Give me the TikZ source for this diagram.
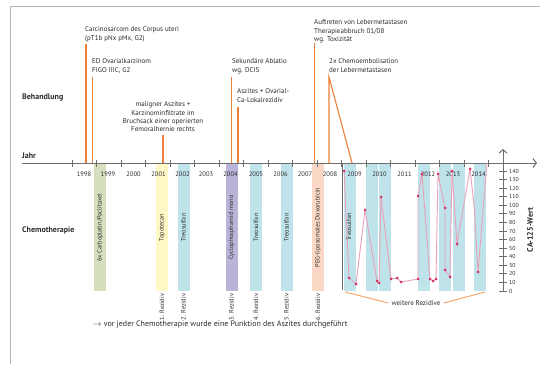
\documentclass[tikz,border=0pt]{standalone}
\usepackage{fontspec}
\setmainfont{PT Sans}
\usetikzlibrary{arrows.meta}
\definecolor{framegray}{HTML}{B4B4B4}
\definecolor{axisgray}{HTML}{6E6E6E}
\definecolor{orangeline}{HTML}{EE7F3B}
\definecolor{bracketorange}{HTML}{F4A66E}
\definecolor{cgreen}{HTML}{D5DFBE}
\definecolor{cyellow}{HTML}{FDF8C6}
\definecolor{ccyan}{HTML}{BEE3EA}
\definecolor{cpurple}{HTML}{B9B5D9}
\definecolor{cpeach}{HTML}{FBD8C5}
\definecolor{pinkline}{HTML}{E9A1BA}
\definecolor{pinkmark}{HTML}{D42F63}
\definecolor{txt}{HTML}{2B2B2B}
\begin{document}
\begin{tikzpicture}[x=1pt,y=-1pt,
  every node/.style={inner sep=0pt, text=txt},
  annot/.style={font=\fontsize{7}{8.4}\selectfont, align=left, anchor=north west},
  evline/.style={draw=orangeline, line width=1.1pt},
  headlabel/.style={font=\fontsize{8}{9}\selectfont\bfseries, anchor=west},
  yearlabel/.style={font=\fontsize{6.5}{7}\selectfont},
  chembar/.style={minimum width=12pt, minimum height=127pt, draw=none},
  barlabel/.style={font=\fontsize{6.3}{7}\selectfont, rotate=90},
  rezlabel/.style={font=\fontsize{6.3}{7}\selectfont, rotate=90},
  axisline/.style={draw=axisgray, line width=1pt},
  tickline/.style={draw=axisgray, line width=0.8pt},
  marker/.style={circle, fill=pinkmark, minimum size=3pt}
]
\useasboundingbox (0,0) rectangle (540,364);
% frame
\draw[framegray, line width=0.8pt] (10,364) -- (10,6) -- (540,6);

% left labels
\node[headlabel] (behandlung) at (22,98) {Behandlung};
\node[headlabel] (jahr) at (22,156) {Jahr};
\node[headlabel] (chemo) at (22,230) {Chemotherapie};

% chemo bars
\node[chembar, fill=cgreen] (bar1) at (100,227.5) {};
\node[chembar, fill=cyellow] (bar2) at (162,227.5) {};
\node[chembar, fill=ccyan] (bar3) at (183.5,227.5) {};
\node[chembar, fill=cpurple] (bar4) at (231.5,227.5) {};
\node[chembar, fill=ccyan] (bar5) at (256,227.5) {};
\node[chembar, fill=ccyan] (bar6) at (286.5,227.5) {};
\node[chembar, fill=cpeach] (bar7) at (318,227.5) {};
\node[chembar, fill=ccyan] (bar8) at (350,227.5) {};
\node[chembar, fill=ccyan] (bar9) at (371.5,227.5) {};
\node[chembar, fill=ccyan] (bar10) at (385,227.5) {};
\node[chembar, fill=ccyan] (bar11) at (424,227.5) {};
\node[chembar, fill=ccyan] (bar12) at (444.5,227.5) {};
\node[chembar, fill=ccyan] (bar13) at (459,227.5) {};
\node[chembar, fill=ccyan] (bar14) at (480,227.5) {};

\node[barlabel] (bl1) at (bar1.center) {6x Carboplatin/Paclitaxel};
\node[barlabel] (bl2) at (bar2.center) {Topotecan};
\node[barlabel] (bl3) at (bar3.center) {Treosulfan};
\node[barlabel] (bl4) at (bar4.center) {Cyclophosphamid mono};
\node[barlabel] (bl5) at (bar5.center) {Treosulfan};
\node[barlabel] (bl6) at (bar6.center) {Treosulfan};
\node[barlabel] (bl7) at (bar7.center) {PEG-liposomales Doxorubicin};
\node[barlabel] (bl8) at (349,227) {Treosulfan};

% Rezidiv labels
\node[rezlabel] (r1) at (162,307) {1. Rezidiv};
\node[rezlabel] (r2) at (183.5,307) {2. Rezidiv};
\node[rezlabel] (r3) at (231.5,307) {3. Rezidiv};
\node[rezlabel] (r4) at (256,307) {4. Rezidiv};
\node[rezlabel] (r5) at (286.5,307) {5. Rezidiv};
\node[rezlabel] (r6) at (318,307) {6. Rezidiv};

% separator line at 2009
\coordinate (sepT) at (342,163);
\coordinate (sepB) at (342,290);
\draw[draw=axisgray, line width=0.9pt] (sepT) -- (sepB);

% weitere Rezidive bracket
\node[font=\fontsize{7}{8}\selectfont] (weitere) at (416,303) {weitere Rezidive};
\coordinate (brL) at (345,292);
\coordinate (brR) at (485,292);
\draw[bracketorange, line width=1pt] (brL) -- ([xshift=-3pt]weitere.west);
\draw[bracketorange, line width=1pt] (brR) -- ([xshift=3pt]weitere.east);

% year axis
\coordinate (ax0) at (22,163);
\coordinate (ax1) at (537,163);
\draw[axisline, -{Straight Barb[length=3.5pt,width=9pt]}] (ax0) -- (ax1);
\foreach \k in {0,...,17} {
  \draw[tickline] ({72+24.5*\k},160) -- ({72+24.5*\k},167);
}
\foreach \yr/\xx in {1998/84,1999/108,2000/133.5,2001/158.5,2002/182.5,2003/206,2004/230.5,2005/256,2006/280.5,2007/305,2008/330,2009/354.5,2010/379.5,2011/404.5,2012/428,2013/453,2014/478.5} {
  \node[yearlabel] (y\yr) at (\xx,174) {\yr};
}

% CA-125 axis
\coordinate (ca0) at (503,291);
\coordinate (ca1) at (503,149);
\draw[axisline, -{Straight Barb[length=3.5pt,width=8pt]}] (ca0) -- (ca1);
\foreach \v in {0,10,...,140} {
  \pgfmathsetmacro{\yy}{291-0.857*\v}
  \draw[tickline] (499,\yy) -- (507,\yy);
  \node[font=\fontsize{5.8}{6}\selectfont, anchor=west] (t\v) at (509,\yy) {\v};
}
\node[font=\fontsize{8}{9}\selectfont\bfseries, rotate=90] (calabel) at (530,230) {CA-125-Wert};

% CA-125 series
\begin{scope}
\clip (340,163) rectangle (500,295);
\draw[pinkline, line width=0.9pt] plot coordinates {(344,171) (349,278) (356,284) (365,210) (377,281) (379,283) (381,197) (391,279) (397,278) (401,282) (418,279) (418,196) (422,174) (430,279) (433,281) (436,279) (438,174) (445,208) (445,270) (450,277) (452,171) (457,244) (470,169) (474,205) (478,272) (487,163)};
\end{scope}
\foreach \px/\py [count=\i] in {344/171,349/278,356/284,365/210,377/281,379/283,381/197,391/279,397/278,401/282,418/279,418/196,422/174,430/279,433/281,436/279,438/174,445/208,445/270,450/277,452/171,457/244,470/169,478/272} {
  \node[marker] (m\i) at (\px,\py) {};
}

% events
\node[annot] (a1) at (85,26.5) {Carcinosarcom des Corpus uteri\\(pT1b pNx pMx, G2)};
\coordinate (e1t) at (86,44); \coordinate (e1b) at (86,163);
\draw[evline] (e1t) -- (e1b);

\node[annot] (a2) at (92,58.5) {ED Ovarialkarzinom\\FIGO IIIC, G2};
\coordinate (e2t) at (92.5,77); \coordinate (e2b) at (92.5,163);
\draw[evline] (e2t) -- (e2b);

\node[annot, align=center, anchor=north] (a3) at (163,101.5) {maligner Aszites +\\Karzinominfiltrate im\\Bruchsack einer operierten\\Femoralhernie rechts};
\coordinate (e3t) at (163,135); \coordinate (e3b) at (163,163);
\draw[evline] (e3t) -- (e3b);

\node[annot] (a4) at (232,58.5) {Sekundäre Ablatio\\wg. DCIS};
\coordinate (e4t) at (231.5,77); \coordinate (e4b) at (231.5,163);
\draw[evline] (e4t) -- (e4b);

\node[annot] (a5) at (237,88.5) {Aszites + Ovarial-\\Ca-Lokalrezidiv};
\coordinate (e5t) at (238,107); \coordinate (e5b) at (238,163);
\draw[evline] (e5t) -- (e5b);

\node[annot] (a6) at (314,19.5) {Auftreten von Lebermetastasen\\Therapieabbruch 01/08\\wg. Toxizität};
\coordinate (e6t) at (314.5,43); \coordinate (e6b) at (314.5,163);
\draw[evline] (e6t) -- (e6b);

\node[annot] (a7) at (329,58.5) {2x Chemoembolisation\\der Lebermetastasen};
\coordinate (e7t) at (329,77); \coordinate (e7b) at (329,163); \coordinate (e7c) at (352,163);
\draw[evline] (e7b) -- (e7t) -- (e7c);

% bottom note
\node[font=\fontsize{8}{9}\selectfont, anchor=west] (note) at (93,324) {$\rightarrow$\ vor jeder Chemotherapie wurde eine Punktion des Aszites durchgeführt};
\end{tikzpicture}
\end{document}
